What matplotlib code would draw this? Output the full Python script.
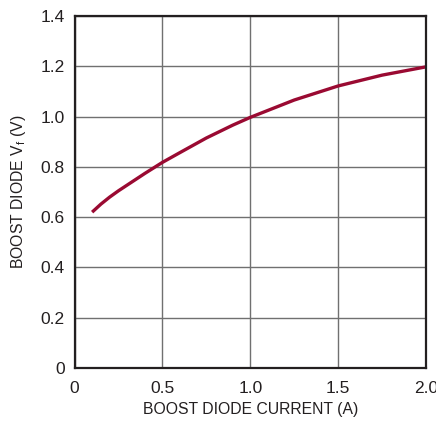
import matplotlib
matplotlib.use("Agg")
import matplotlib.pyplot as plt

# courbe (courant en A, tension en V)
courant = [0.1, 0.15, 0.2, 0.25, 0.3, 0.4, 0.5, 0.6, 0.75, 0.9, 1.0, 1.25, 1.5, 1.75, 2.0]
tension = [0.62, 0.652, 0.68, 0.705, 0.728, 0.774, 0.818, 0.857, 0.915, 0.966, 0.997, 1.066, 1.122, 1.165, 1.198]

x_ticks = [0, 0.5, 1.0, 1.5, 2.0]
x_labels = ["0", "0.5", "1.0", "1.5", "2.0"]
y_ticks = [0, 0.2, 0.4, 0.6, 0.8, 1.0, 1.2, 1.4]
y_labels = ["0", "0.2", "0.4", "0.6", "0.8", "1.0", "1.2", "1.4"]

plt.rcParams['font.family'] = ['Liberation Sans', 'DejaVu Sans']

fig = plt.figure(figsize=(4.36, 4.23), dpi=100)
ax = fig.add_axes([0.171, 0.130, 0.806, 0.832])

ax.plot(courant, tension, color="#9a0a32", lw=2.4, solid_capstyle="butt", solid_joinstyle="round")

ax.set_xlim(0, 2.0)
ax.set_ylim(0, 1.4)
ax.set_xticks(x_ticks, x_labels)
ax.set_yticks(y_ticks, y_labels)
ax.tick_params(length=0, labelsize=12.5, colors="#231f20", pad=7)
ax.tick_params(axis='x', pad=9)
ax.grid(True, color="#707070", lw=1.0)
for s in ax.spines.values():
    s.set_color("#231f20")
    s.set_linewidth(1.6)

ax.set_xlabel("BOOST DIODE CURRENT (A)", fontsize=11.3, color="#231f20", labelpad=5)
ax.set_ylabel("BOOST DIODE V$_\\mathregular{f}$ (V)", fontsize=11.3, color="#231f20", labelpad=9)

fig.savefig("out.png", dpi=100)
